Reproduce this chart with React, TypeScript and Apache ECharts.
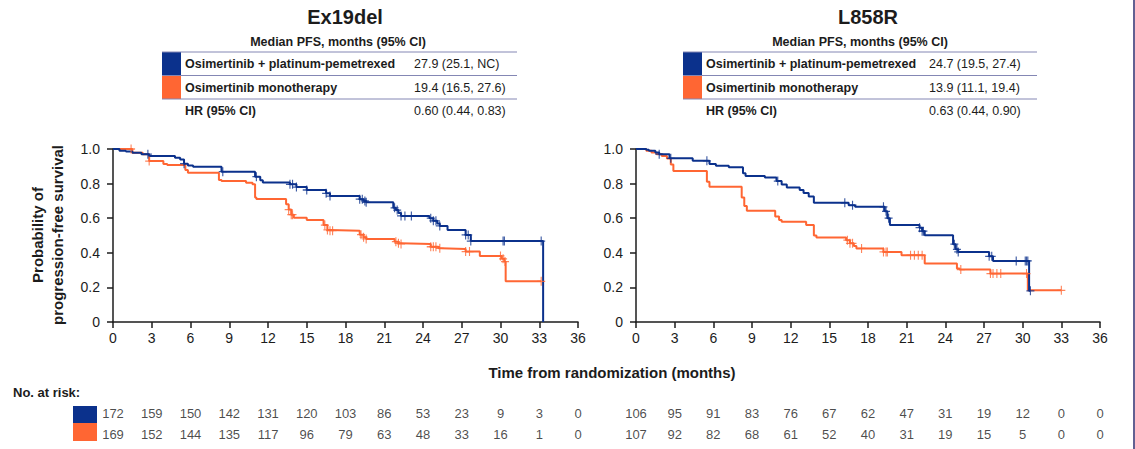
import React, { useEffect, useRef } from "react";
import * as echarts from "echarts";

// ---- data ----------------------------------------------------------------
const MONTH_TICKS = [0, 3, 6, 9, 12, 15, 18, 21, 24, 27, 30, 33, 36];

const ARM_LABELS = ["Osimertinib + platinum-pemetrexed", "Osimertinib monotherapy"];

const EX19_TITLE = "Ex19del";
const L858_TITLE = "L858R";
const TABLE_HEADER = "Median PFS, months (95% CI)";
const HR_LABEL = "HR (95% CI)";

const EX19_MEDIANS = ["27.9 (25.1, NC)", "19.4 (16.5, 27.6)"];
const EX19_HR = "0.60 (0.44, 0.83)";
const L858_MEDIANS = ["24.7 (19.5, 27.4)", "13.9 (11.1, 19.4)"];
const L858_HR = "0.63 (0.44, 0.90)";

// Kaplan-Meier steps: [month, survival after the event]
const EX19_COMBO: [number, number][] = [
  [0, 1], [0.5, 0.99], [1, 0.985], [1.5, 0.978], [2.2, 0.97], [2.8, 0.96],
  [4.8, 0.95], [5.2, 0.94], [5.5, 0.915], [5.8, 0.905], [6.2, 0.898],
  [8.4, 0.869], [11.0, 0.84], [11.4, 0.82], [11.6, 0.807], [13.7, 0.796],
  [14.2, 0.78], [15.0, 0.763], [16.5, 0.744], [16.8, 0.728], [19.1, 0.71],
  [19.4, 0.7], [19.6, 0.692], [21.7, 0.66], [21.9, 0.647], [22.1, 0.63],
  [22.3, 0.613], [24.5, 0.6], [24.8, 0.585], [25.1, 0.57], [25.3, 0.555],
  [25.9, 0.532], [27.3, 0.503], [27.7, 0.468], [33.3, 0],
];
const EX19_COMBO_CENSOR = [
  2.7, 5.5, 8.5, 11.1, 13.7, 13.9, 14.2, 15.0, 16.5, 16.8, 19.1, 19.3, 19.5,
  19.6, 21.8, 22.0, 22.3, 22.6, 23.1, 24.6, 24.8, 25.0, 25.3, 27.3, 27.5,
  27.7, 30.2, 30.3, 33.15,
];

const EX19_MONO: [number, number][] = [
  [0, 1], [1.5, 0.978], [2.3, 0.97], [2.8, 0.93], [3.9, 0.913], [4.2, 0.907],
  [5.6, 0.879], [5.8, 0.863], [8.2, 0.821], [8.4, 0.815], [10.3, 0.805],
  [10.8, 0.796], [11.0, 0.719], [11.1, 0.711], [13.4, 0.68], [13.6, 0.65],
  [13.8, 0.62], [14.0, 0.603], [15.0, 0.59], [16.3, 0.56], [16.6, 0.532],
  [16.8, 0.528], [19.1, 0.505], [19.4, 0.49], [19.6, 0.48], [21.8, 0.464],
  [22.1, 0.455], [22.3, 0.451], [24.6, 0.435], [25.2, 0.426], [25.4, 0.422],
  [27.3, 0.407], [28.4, 0.382], [30.1, 0.365], [30.3, 0.349], [30.4, 0.235],
  [33.15, 0.235],
];
const EX19_MONO_CENSOR = [
  1.4, 2.8, 13.6, 13.8, 13.9, 16.4, 16.6, 16.8, 17.0, 19.2, 19.4, 19.6, 21.9,
  22.1, 22.3, 24.6, 24.8, 25.0, 25.3, 27.3, 27.6, 30.0, 30.2, 30.35, 33.15,
];

const L858_COMBO: [number, number][] = [
  [0, 1], [0.8, 0.995], [1.0, 0.99], [1.5, 0.98], [1.8, 0.97], [2.6, 0.946],
  [4.4, 0.932], [5.7, 0.913], [6.2, 0.903], [7.2, 0.894], [8.3, 0.86],
  [8.5, 0.844], [10.0, 0.835], [10.9, 0.815], [11.3, 0.795], [11.7, 0.778],
  [12.7, 0.763], [13.0, 0.745], [13.4, 0.725], [13.8, 0.689], [16.5, 0.675],
  [17.0, 0.666], [19.3, 0.64], [19.5, 0.6], [19.7, 0.56], [22.0, 0.545],
  [22.2, 0.525], [22.4, 0.502], [24.6, 0.45], [24.8, 0.42], [25.0, 0.405],
  [27.4, 0.38], [27.7, 0.353], [30.5, 0.18], [30.6, 0.18],
];
const L858_COMBO_CENSOR = [
  1.8, 2.7, 5.5, 11.0, 16.2, 16.8, 19.2, 19.4, 19.6, 22.0, 22.2, 22.3, 24.7,
  24.9, 25.0, 27.4, 27.6, 29.5, 30.2, 30.3, 30.4, 30.6,
];

const L858_MONO: [number, number][] = [
  [0, 1], [0.8, 0.99], [1.2, 0.98], [1.6, 0.97], [2.0, 0.96], [2.4, 0.945],
  [2.7, 0.91], [2.9, 0.873], [5.5, 0.81], [5.7, 0.782], [8.2, 0.72],
  [8.4, 0.67], [8.6, 0.643], [10.8, 0.61], [11.1, 0.589], [11.3, 0.579],
  [13.2, 0.56], [13.8, 0.5], [14.0, 0.488], [16.3, 0.473], [16.6, 0.455],
  [16.9, 0.44], [17.1, 0.425], [19.2, 0.405], [20.6, 0.386], [22.4, 0.338],
  [24.9, 0.309], [25.1, 0.303], [27.5, 0.28], [30.4, 0.183], [33.0, 0.183],
];
const L858_MONO_CENSOR = [
  16.4, 16.6, 16.8, 17.5, 19.2, 19.4, 19.5, 21.3, 21.6, 21.9, 22.2, 25.2,
  27.5, 27.7, 28.0, 28.3, 30.3, 33.0,
];

// Numbers at risk at each 3-month tick
const EX19_RISK_COMBO = [172, 159, 150, 142, 131, 120, 103, 86, 53, 23, 9, 3, 0];
const EX19_RISK_MONO = [169, 152, 144, 135, 117, 96, 79, 63, 48, 33, 16, 1, 0];
const L858_RISK_COMBO = [106, 95, 91, 83, 76, 67, 62, 47, 31, 19, 12, 0, 0];
const L858_RISK_MONO = [107, 92, 82, 68, 61, 52, 40, 31, 19, 15, 5, 0, 0];

// ---- styling ---------------------------------------------------------------
const BLUE = "#0b318c";
const ORANGE = "#ff6633";
const INK = "#1c1c1c";
const RULE = "#8487b4";
const FONT = 'Arial, "Liberation Sans", Helvetica, sans-serif';

const PLUS =
  "path://M4.3,0H5.7V4.3H10V5.7H5.7V10H4.3V5.7H0V4.3H4.3Z";

// survival at time t
function survivalAt(steps: [number, number][], t: number): number {
  let s = 1;
  for (const [time, val] of steps) {
    if (time <= t + 1e-9) s = val;
    else break;
  }
  return s;
}

function kmSeries(steps: [number, number][], censor: number[], color: string, idx: number) {
  return [
    {
      type: "line",
      step: "end",
      xAxisIndex: idx,
      yAxisIndex: idx,
      data: steps,
      showSymbol: false,
      symbol: "none",
      lineStyle: { color, width: 2 },
      silent: true,
      z: color === BLUE ? 4 : 3,
    },
    {
      type: "scatter",
      xAxisIndex: idx,
      yAxisIndex: idx,
      data: censor.map((t) => [t, survivalAt(steps, t)]),
      symbol: PLUS,
      symbolSize: [8, 9],
      itemStyle: { color },
      silent: true,
      z: color === BLUE ? 6 : 5,
    },
  ];
}

function riskSeries(combo: number[], mono: number[], idx: number) {
  const rows = [combo, mono];
  return {
    type: "scatter",
    xAxisIndex: idx,
    yAxisIndex: idx,
    data: rows.flatMap((row, r) => row.map((n, i) => [MONTH_TICKS[i], r, n])),
    symbolSize: 1,
    itemStyle: { color: "rgba(0,0,0,0)" },
    label: {
      show: true,
      position: "inside",
      formatter: (p: any) => String(p.value[2]),
      color: INK,
      fontSize: 13,
      fontFamily: FONT,
    },
    silent: true,
  };
}

function kmXAxis(gridIndex: number) {
  return {
    type: "value",
    gridIndex,
    min: 0,
    max: 36,
    interval: 3,
    axisLine: { show: true, lineStyle: { color: INK, width: 1.5 } },
    axisTick: { show: true, length: 6, lineStyle: { color: INK, width: 1.5 } },
    axisLabel: { color: INK, fontSize: 14, fontFamily: FONT, margin: 9 },
    splitLine: { show: false },
  };
}

function kmYAxis(gridIndex: number) {
  return {
    type: "value",
    gridIndex,
    min: 0,
    max: 1,
    interval: 0.2,
    axisLine: { show: true, lineStyle: { color: INK, width: 1.5 } },
    axisTick: { show: true, length: 6, lineStyle: { color: INK, width: 1.5 } },
    axisLabel: {
      color: INK,
      fontSize: 14,
      fontFamily: FONT,
      margin: 13,
      formatter: (v: number) => (v === 0 ? "0" : v.toFixed(1)),
    },
    splitLine: { show: false },
  };
}

function riskXAxis(gridIndex: number) {
  return { type: "value", gridIndex, min: 0, max: 36, show: false };
}
function riskYAxis(gridIndex: number) {
  return { type: "value", gridIndex, min: -0.5, max: 1.5, inverse: true, show: false };
}

function txt(text: string, x: number, y: number, opts: any = {}) {
  return {
    type: "text",
    x,
    y,
    silent: true,
    style: {
      text,
      fill: INK,
      fontFamily: FONT,
      fontSize: 12.5,
      fontWeight: "normal",
      align: "left",
      verticalAlign: "middle",
      ...opts,
    },
  };
}

function panelHeader(
  title: string,
  titleX: number,
  headerX: number,
  x0: number,
  x1: number,
  labelX: number,
  valueX: number,
  medians: string[],
  hr: string
) {
  const els: any[] = [
    txt(title, titleX, 17, { fontSize: 20, fontWeight: "bold", align: "center" }),
    txt(TABLE_HEADER, headerX, 42, { fontWeight: "bold", align: "center" }),
    { type: "rect", shape: { x: x0, y: 52, width: 19, height: 23.5 }, style: { fill: BLUE }, silent: true },
    { type: "rect", shape: { x: x0, y: 75.5, width: 19, height: 23.5 }, style: { fill: ORANGE }, silent: true },
  ];
  [52, 75.5, 99].forEach((y) =>
    els.push({
      type: "line",
      shape: { x1: x0, y1: y, x2: x1, y2: y },
      style: { stroke: RULE, lineWidth: 1 },
      silent: true,
    })
  );
  ARM_LABELS.forEach((label, i) => {
    els.push(txt(label, labelX, 64 + i * 23.5, { fontWeight: "bold" }));
    els.push(txt(medians[i], valueX, 64 + i * 23.5));
  });
  els.push(txt(HR_LABEL, labelX, 111, { fontWeight: "bold" }));
  els.push(txt(hr, valueX, 111));
  return els;
}

export default function App() {
  const ref = useRef<HTMLDivElement>(null);

  useEffect(() => {
    if (!ref.current) return;
    const chart = echarts.init(ref.current, undefined, { renderer: "svg" });

    const graphic: any[] = [
      ...panelHeader(EX19_TITLE, 345, 338, 162, 517, 185, 414, EX19_MEDIANS, EX19_HR),
      ...panelHeader(L858_TITLE, 868, 860, 683, 1037, 706, 929, L858_MEDIANS, L858_HR),
      {
        type: "text",
        x: 47,
        y: 235,
        rotation: Math.PI / 2,
        silent: true,
        style: {
          text: "Probability of\nprogression-free survival",
          fill: INK,
          fontFamily: FONT,
          fontSize: 15,
          fontWeight: "bold",
          align: "center",
          verticalAlign: "middle",
          lineHeight: 20,
        },
      },
      txt("Time from randomization (months)", 612, 372, {
        fontSize: 15,
        fontWeight: "bold",
        align: "center",
      }),
      txt("No. at risk:", 13, 392, { fontSize: 13, fontWeight: "bold" }),
      { type: "rect", shape: { x: 73, y: 406, width: 24, height: 17 }, style: { fill: BLUE }, silent: true },
      { type: "rect", shape: { x: 73, y: 423, width: 24, height: 18 }, style: { fill: ORANGE }, silent: true },
      {
        type: "line",
        shape: { x1: 1134, y1: 0, x2: 1134, y2: 449 },
        style: { stroke: "#2e2b6e", lineWidth: 1.5 },
        silent: true,
      },
    ];

    chart.setOption({
      animation: false,
      backgroundColor: "#ffffff",
      grid: [
        { left: 113, top: 149, width: 465, height: 173 },
        { left: 636, top: 149, width: 464, height: 173 },
        { left: 113, top: 402.5, width: 465, height: 42 },
        { left: 636, top: 402.5, width: 464, height: 42 },
      ],
      xAxis: [kmXAxis(0), kmXAxis(1), riskXAxis(2), riskXAxis(3)],
      yAxis: [kmYAxis(0), kmYAxis(1), riskYAxis(2), riskYAxis(3)],
      series: [
        ...kmSeries(EX19_MONO, EX19_MONO_CENSOR, ORANGE, 0),
        ...kmSeries(EX19_COMBO, EX19_COMBO_CENSOR, BLUE, 0),
        ...kmSeries(L858_MONO, L858_MONO_CENSOR, ORANGE, 1),
        ...kmSeries(L858_COMBO, L858_COMBO_CENSOR, BLUE, 1),
        riskSeries(EX19_RISK_COMBO, EX19_RISK_MONO, 2),
        riskSeries(L858_RISK_COMBO, L858_RISK_MONO, 3),
      ],
      graphic,
    });

    return () => chart.dispose();
  }, []);

  return (
    <div
      ref={ref}
      style={{ position: "fixed", left: 0, top: 0, width: 1135, height: 449, background: "#fff" }}
    />
  );
}
